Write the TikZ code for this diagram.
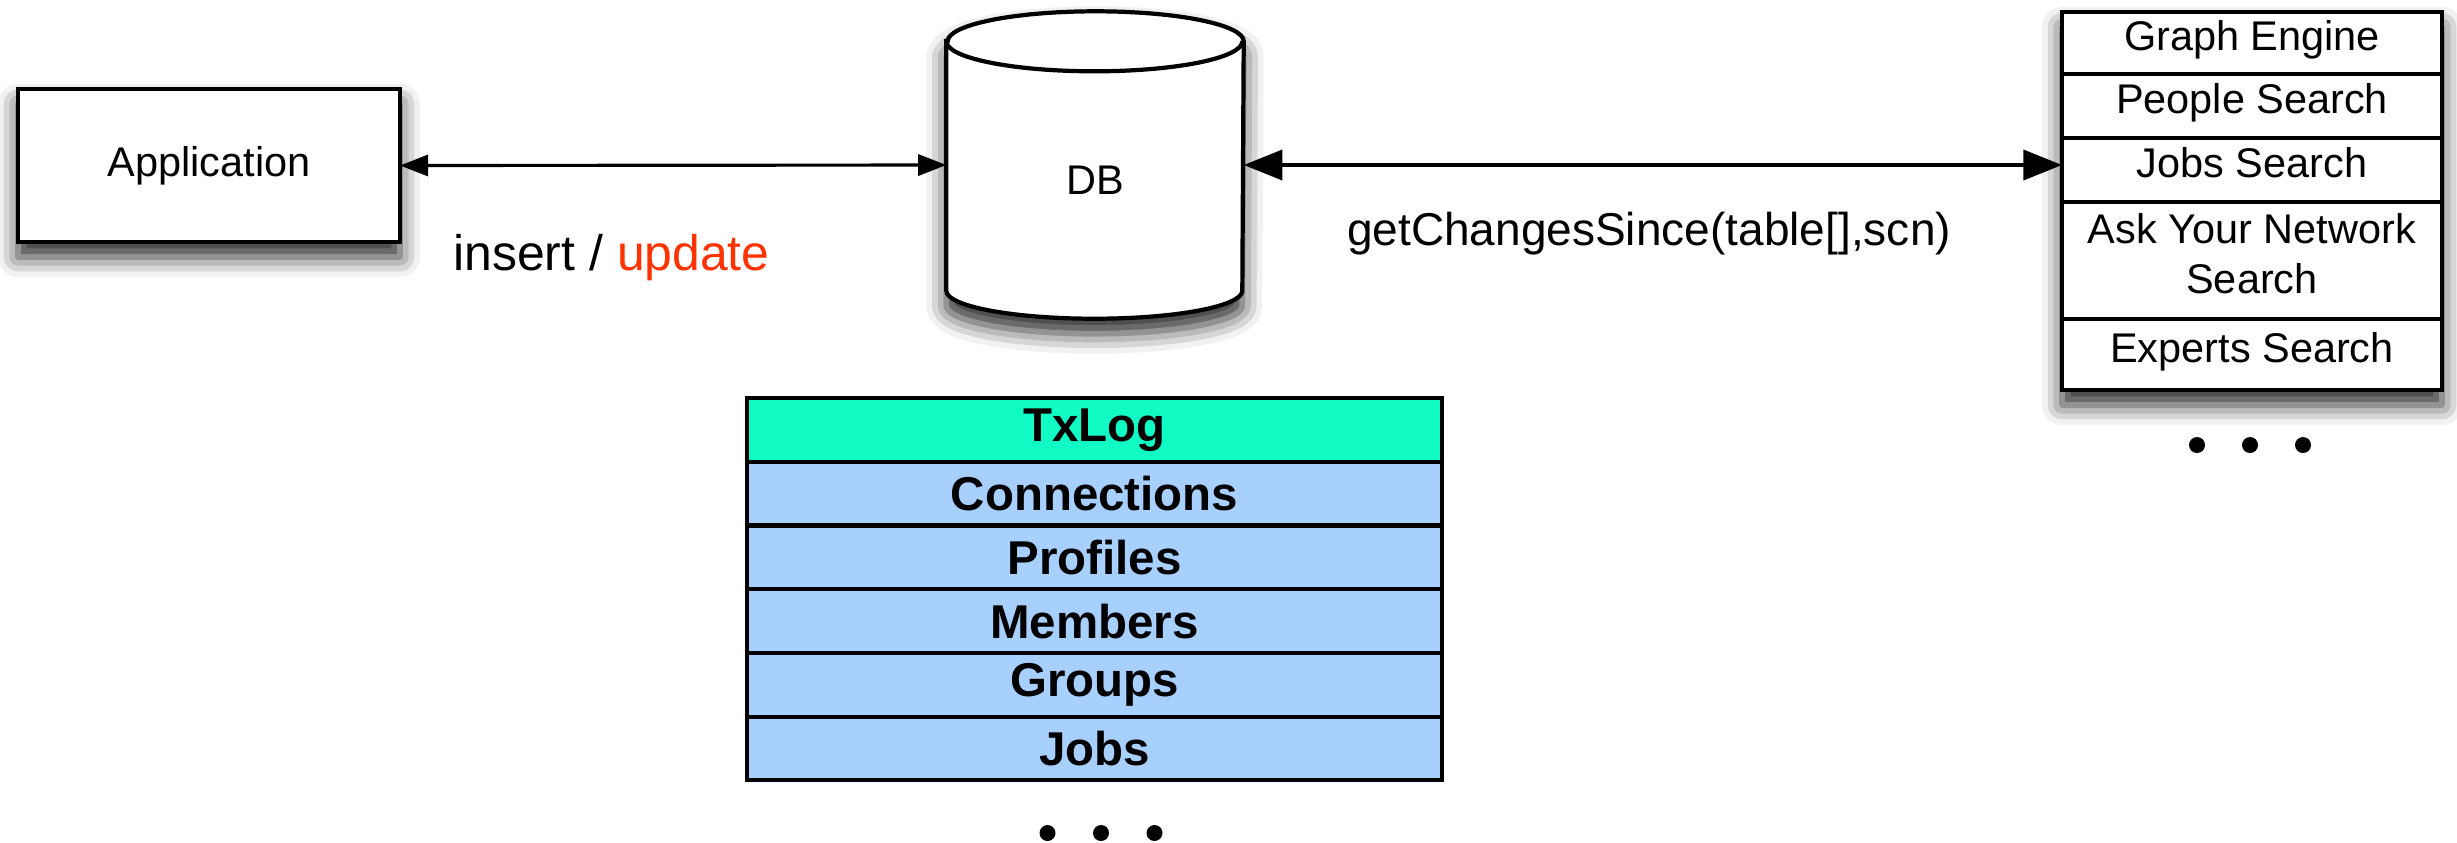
\documentclass[tikz,border=0pt]{standalone}
\usepackage{fontspec}
\setmainfont{Liberation Sans}
\usetikzlibrary{positioning,arrows.meta,shadows.blur}

\definecolor{logteal}{HTML}{10FCC4}
\definecolor{rowblue}{HTML}{A8D0FF}
\definecolor{updred}{HTML}{FF3300}

\begin{document}
\begin{tikzpicture}[
  softshadow/.style={blur shadow={shadow xshift=0pt, shadow yshift=-0.15cm, shadow blur radius=0.2cm, shadow opacity=85}},
  box/.style={draw, line width=1.2pt, fill=white, outer sep=0pt, font=\fontsize{11.8}{14.2}\selectfont},
  engine/.style={box, minimum width=3.8cm, inner sep=0pt, text height=0.8em, text depth=0.35em},
  tablerow/.style={draw, line width=1.2pt, fill=rowblue, outer sep=0pt, minimum width=6.95cm, minimum height=0.637cm, inner sep=0pt, font=\fontsize{13.5}{16}\bfseries\selectfont},
  link/.style={line width=0.9pt, {Triangle[length=8pt,width=6pt,fill=black]}-{Triangle[length=8pt,width=6pt,fill=black]}},
  biglink/.style={line width=1.2pt, {Triangle[length=11pt,width=8.5pt,fill=black]}-{Triangle[length=11pt,width=8.5pt,fill=black]}}
]

\useasboundingbox (0,0) rectangle (24.57,-8.42);

% APPLICATION AND DB %%%%%%%%%%%%%%%%%%%%%%%%%%%%%%%%%%%%%%%%%%%%%%%%%%%%%%

\node[box, softshadow, minimum width=3.82cm, minimum height=1.53cm] (app) at (2.09,-1.655) {Application};

\node[minimum width=2.96cm, minimum height=3.06cm, inner sep=0pt] (db) at (10.95,-1.65) {};
\draw[line width=1.2pt, fill=white, softshadow] ([yshift=-0.30cm]db.north west) -- ([yshift=0.28cm]db.south west)
  arc[start angle=180, end angle=360, x radius=1.48cm, y radius=0.28cm] -- ([yshift=-0.30cm]db.north east)
  arc[start angle=0, end angle=180, x radius=1.48cm, y radius=0.30cm] -- cycle;
\draw[line width=1.2pt] ([yshift=-0.30cm]db.north west) arc[start angle=180, end angle=360, x radius=1.48cm, y radius=0.30cm];
\node[font=\fontsize{11.8}{14.2}\selectfont] (dblabel) at ([yshift=-0.15cm]db.center) {DB};

% SEARCH ENGINES %%%%%%%%%%%%%%%%%%%%%%%%%%%%%%%%%%%%%%%%%%%%%%%%%%%%%%%%%%

\node[box, softshadow, minimum width=3.8cm, minimum height=3.78cm, inner sep=0pt] (engines) at (22.52,-2.01) {};
\node[engine, minimum height=0.62cm, below=0pt of engines.north] (graph) {Graph Engine};
\node[engine, minimum height=0.64cm, below=0pt of graph] (people) {People Search};
\node[engine, minimum height=0.64cm, below=0pt of people] (jobs) {Jobs Search};
\node[engine, minimum height=1.17cm, below=0pt of jobs] (askyn) {};
\node[font=\fontsize{11.8}{14.2}\selectfont, align=center, inner sep=0pt] (askyntext) at ([yshift=0.07cm]askyn.center) {Ask Your Network\\Search};
\node[engine, minimum height=0.71cm, below=0pt of askyn] (experts) {Experts Search};

\coordinate (moreengines) at (22.50,-4.45);
\foreach \dx in {-0.53,0,0.53}
  \fill ([xshift=\dx cm]moreengines) circle (0.08);

% TABLES %%%%%%%%%%%%%%%%%%%%%%%%%%%%%%%%%%%%%%%%%%%%%%%%%%%%%%%%%%%%%%%%%%

\node[tablerow, fill=logteal] (txlog) at (10.945,-4.30) {TxLog};
\node[tablerow, below=0pt of txlog] (connections) {Connections};
\node[tablerow, below=0pt of connections] (profiles) {Profiles};
\node[tablerow, below=0pt of profiles] (members) {Members};
\node[tablerow, below=0pt of members] (groups) {Groups};
\node[tablerow, below=0pt of groups] (jobstable) {Jobs};

\coordinate (moretables) at (11.01,-8.33);
\foreach \dx in {-0.535,0,0.535}
  \fill ([xshift=\dx cm]moretables) circle (0.08);

% LINKS %%%%%%%%%%%%%%%%%%%%%%%%%%%%%%%%%%%%%%%%%%%%%%%%%%%%%%%%%%%%%%%%%%

\draw[link] (app.east) -- (db.west);
\draw[biglink] (db.east) -- (db.east -| jobs.west);

% ETIQUETTES

\node[font=\fontsize{14.2}{17}\selectfont, anchor=base] (txlabel) at (6.115,-2.70) {insert / \textcolor{updred}{update}};
\node[font=\fontsize{13.1}{16}\selectfont, anchor=base] (synclabel) at (16.49,-2.45) {getChangesSince(table[],scn)};

\end{tikzpicture}
\end{document}
